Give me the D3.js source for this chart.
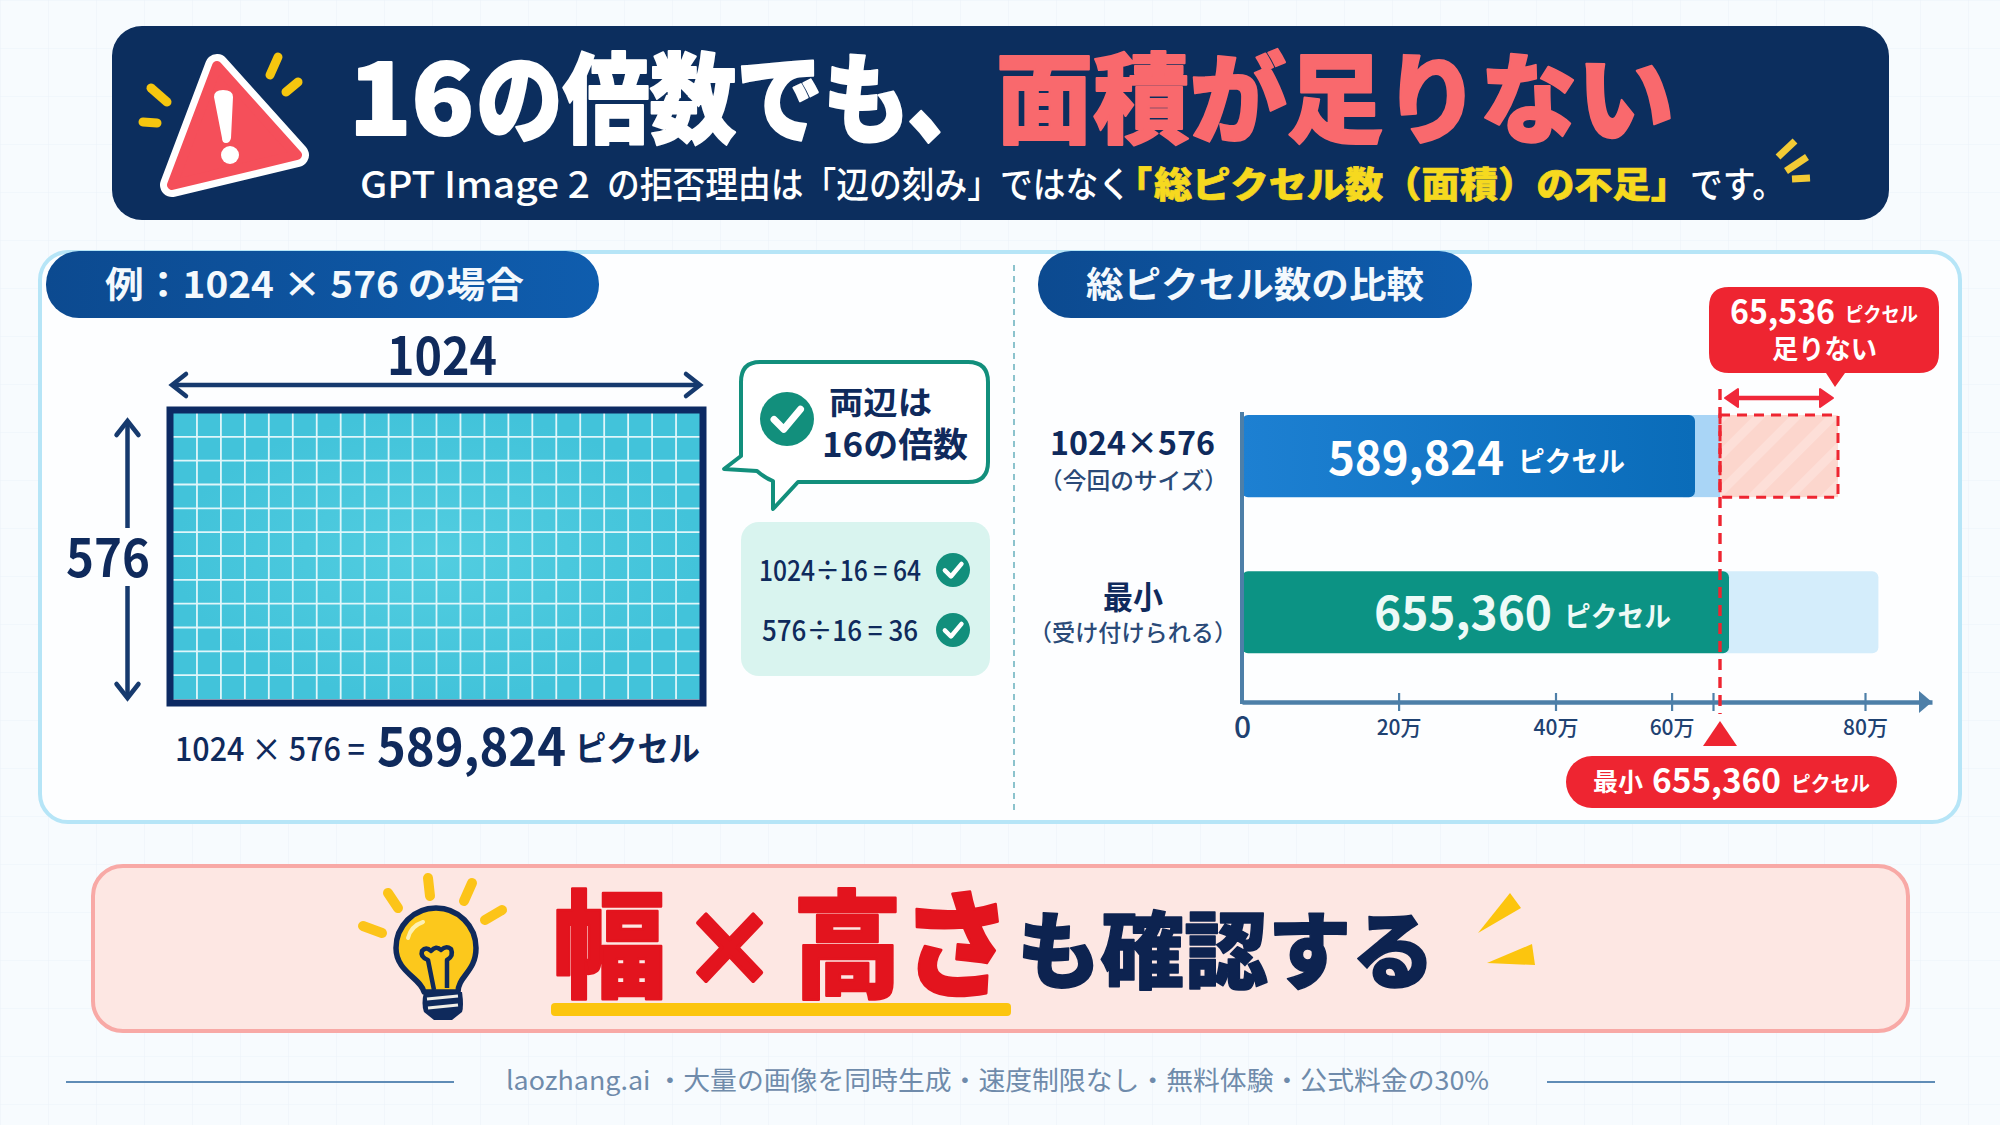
<!DOCTYPE html>
<html lang="ja">
<head>
<meta charset="utf-8">
<script src="https://cdn.jsdelivr.net/npm/d3@7/dist/d3.min.js"></script>
<style>
html,body{margin:0;padding:0;background:#f6fafd;}
svg{display:block;}
text{font-family:"Noto Sans CJK JP","Noto Sans",sans-serif;}
</style>
</head>
<body>
<svg id="c" width="2000" height="1125" viewBox="0 0 2000 1125"></svg>
<script>
// ---- data ----
const categories = ["1024×576", "最小"];
const categoryNotes = ["（今回のサイズ）", "（受け付けられる）"];
const values = [589824, 655360];
const minimumPixels = 655360;
const shortfall = 65536;
const trackEnd = 820000;
const axisEnd = 900000;
const axisTicks = [0, 200000, 400000, 600000, 650000, 800000];
const axisTickLabels = ["0", "20万", "40万", "60万", "", "80万"];
const gridColumns = 22;
const gridRows = 12;

// ---- helpers ----
const NAVY = "#0f2a5c", RED = "#ee2531", GREEN = "#128f7c", YEL = "#f6c60f";
const svg = d3.select("#c");
const defs = svg.append("defs");
// fits text between two measured x positions, centred vertically on yc
function T(g, x0, x1, yc, str, size, fill, weight) {
  return g.append("text").attr("x", x0).attr("y", yc + size * 0.36)
    .attr("textLength", x1 - x0).attr("lengthAdjust", "spacingAndGlyphs")
    .attr("font-size", size).attr("font-weight", weight || 700).attr("fill", fill).text(str);
}
function heavy(sel, w) {
  return sel.attr("stroke", sel.attr("fill")).attr("stroke-width", w).attr("stroke-linejoin", "round");
}
function sparks(g, list, color, w, cap) {
  g.selectAll(null).data(list).join("line")
    .attr("x1", d => d[0]).attr("y1", d => d[1]).attr("x2", d => d[2]).attr("y2", d => d[3])
    .attr("stroke", color).attr("stroke-width", w).attr("stroke-linecap", cap || "round");
}
function check(g, cx, cy, r) {
  g.append("circle").attr("cx", cx).attr("cy", cy).attr("r", r).attr("fill", GREEN);
  g.append("path").attr("d", `M${cx - r * .48} ${cy + r * .02} L${cx - r * .12} ${cy + r * .38} L${cx + r * .5} ${cy - r * .36}`)
    .attr("fill", "none").attr("stroke", "#fff").attr("stroke-width", r * .26)
    .attr("stroke-linecap", "round").attr("stroke-linejoin", "round");
}
function hgrad(id, a, b) {
  const g = defs.append("linearGradient").attr("id", id);
  g.append("stop").attr("offset", "0").attr("stop-color", a);
  g.append("stop").attr("offset", "1").attr("stop-color", b);
}
hgrad("pill", "#0c4a90", "#0f5dae");
hgrad("barBlue", "#1d80d2", "#0a6cb9");
const rg = defs.append("radialGradient").attr("id", "cells");
rg.append("stop").attr("offset", "0").attr("stop-color", "#52cde0");
rg.append("stop").attr("offset", "1").attr("stop-color", "#42c3da");
const bgp = defs.append("pattern").attr("id", "paper").attr("width", 48).attr("height", 48).attr("patternUnits", "userSpaceOnUse");
bgp.append("path").attr("d", "M48 0H0V48").attr("fill", "none").attr("stroke", "#ecf3f9").attr("stroke-width", 1.2);
const hat = defs.append("pattern").attr("id", "hatch").attr("width", 26).attr("height", 26)
  .attr("patternUnits", "userSpaceOnUse").attr("patternTransform", "rotate(45)");
hat.append("rect").attr("width", 26).attr("height", 26).attr("fill", "#fcd6cd");
hat.append("rect").attr("width", 9).attr("height", 26).attr("fill", "#fddfd8");

svg.append("rect").attr("width", 2000).attr("height", 1125).attr("fill", "#f7fbfe");
svg.append("rect").attr("width", 2000).attr("height", 1125).attr("fill", "url(#paper)");

// ---- top banner ----
const head = svg.append("g");
head.append("rect").attr("x", 112).attr("y", 26).attr("width", 1777).attr("height", 194).attr("rx", 30).attr("fill", "#0c2e5e");
const triPts = "217,66 172,185 297,155";
head.append("polygon").attr("points", triPts).attr("fill", "#fff").attr("stroke", "#fff").attr("stroke-width", 24).attr("stroke-linejoin", "round");
head.append("polygon").attr("points", triPts).attr("fill", "#f54f5a").attr("stroke", "#f54f5a").attr("stroke-width", 10).attr("stroke-linejoin", "round");
head.append("path").attr("d", "M214 97 Q214 90 223 90 Q233 90 233 97 L231 138 Q230 143 226 143 Q222 143 222 138 Z").attr("fill", "#fff");
head.append("circle").attr("cx", 230).attr("cy", 155).attr("r", 9).attr("fill", "#fff");
sparks(head, [[278, 57, 270, 75], [298, 82, 286, 92], [151, 88, 167, 102], [143, 122, 157, 123]], YEL, 9);
sparks(head, [[1795, 141, 1778, 157], [1807, 157, 1786, 171], [1810, 178, 1792, 179]], "#f3cb35", 7, "butt");
heavy(T(head, 349, 474, 100, "16", 98, "#fff", 900), 2);
heavy(T(head, 476, 994, 100, "の倍数でも、", 98, "#fff", 900), 2);
heavy(T(head, 996, 1674, 100, "面積が足りない", 98, "#f9696d", 900), 2);
T(head, 360, 590, 185, "GPT Image 2", 36, "#fff", 500);
T(head, 607, 1131, 185, "の拒否理由は「辺の刻み」ではなく", 36, "#fff", 500);
heavy(T(head, 1132, 1689, 185, "総ピクセル数（面積）の不足」", 36, "#f6d91f", 900), 0.6)
  .attr("x", 1154).attr("textLength", 535).text("総ピクセル数（面積）の不足」");
heavy(T(head, 1133, 1154, 185, "「", 36, "#f6d91f", 900), 0.6).attr("x", 1116).attr("textLength", 36);
T(head, 1690, 1785, 185, "です。", 36, "#fff", 500);

// ---- main panel ----
const panel = svg.append("g");
panel.append("rect").attr("x", 40).attr("y", 252).attr("width", 1920).attr("height", 570).attr("rx", 28)
  .attr("fill", "#fdfeff").attr("stroke", "#b6e5f7").attr("stroke-width", 4);
panel.append("line").attr("x1", 1014).attr("x2", 1014).attr("y1", 265).attr("y2", 810)
  .attr("stroke", "#8cc3cd").attr("stroke-width", 2).attr("stroke-dasharray", "6 5");
panel.append("rect").attr("x", 46).attr("y", 251).attr("width", 553).attr("height", 67).attr("rx", 33).attr("fill", "url(#pill)");
T(panel, 105, 524, 285, "例：1024 × 576 の場合", 36, "#f4f9fd", 700);
panel.append("rect").attr("x", 1038).attr("y", 251).attr("width", 434).attr("height", 67).attr("rx", 33).attr("fill", "url(#pill)");
T(panel, 1086, 1424, 285, "総ピクセル数の比較", 36, "#f4f9fd", 700);

// ---- left: the 1024 x 576 grid ----
const leftPart = svg.append("g");
const gx = d3.scaleLinear().domain([0, gridColumns]).range([173, 700]);
const gy = d3.scaleLinear().domain([0, gridRows]).range([413, 699]);
leftPart.append("rect").attr("x", gx(0)).attr("y", gy(0)).attr("width", gx(gridColumns) - gx(0)).attr("height", gy(gridRows) - gy(0)).attr("fill", "url(#cells)");
leftPart.selectAll(".vg").data(d3.range(1, gridColumns)).join("line").attr("class", "vg")
  .attr("x1", gx).attr("x2", gx).attr("y1", gy(0)).attr("y2", gy(gridRows)).attr("stroke", "#dff6fa").attr("stroke-width", 1.8);
leftPart.selectAll(".hg").data(d3.range(1, gridRows)).join("line").attr("class", "hg")
  .attr("y1", gy).attr("y2", gy).attr("x1", gx(0)).attr("x2", gx(gridColumns)).attr("stroke", "#dff6fa").attr("stroke-width", 1.8);
leftPart.append("rect").attr("x", 170).attr("y", 410).attr("width", 533).attr("height", 293).attr("fill", "none").attr("stroke", "#0c2a63").attr("stroke-width", 7);
// dimension arrows
function chevron(g, x, y0, dx, dy, len, w, col) {
  g.append("path").attr("d", `M${x + dx * len + dy * w} ${y0 + dy * len + dx * w} L${x} ${y0} L${x + dx * len - dy * w} ${y0 + dy * len - dx * w}`)
    .attr("fill", "none").attr("stroke", col).attr("stroke-width", 4.5).attr("stroke-linecap", "round").attr("stroke-linejoin", "miter");
}
leftPart.append("line").attr("x1", 173).attr("x2", 699).attr("y1", 385).attr("y2", 385).attr("stroke", "#163a6e").attr("stroke-width", 4.5);
chevron(leftPart, 172, 385, 1, 0, 14, 11, "#163a6e");
chevron(leftPart, 700, 385, -1, 0, 14, 11, "#163a6e");
leftPart.append("line").attr("x1", 127.5).attr("x2", 127.5).attr("y1", 422).attr("y2", 528).attr("stroke", "#163a6e").attr("stroke-width", 4.5);
leftPart.append("line").attr("x1", 127.5).attr("x2", 127.5).attr("y1", 586).attr("y2", 696).attr("stroke", "#163a6e").attr("stroke-width", 4.5);
chevron(leftPart, 127.5, 421, 0, 1, 14, 11, "#163a6e");
chevron(leftPart, 127.5, 698, 0, -1, 14, 11, "#163a6e");
T(leftPart, 387, 497, 356, "1024", 52, NAVY, 700);
T(leftPart, 66, 150, 558, "576", 52, NAVY, 700);
T(leftPart, 175, 365, 749, "1024 × 576 =", 32, NAVY, 500);
T(leftPart, 377, 566, 747, "589,824", 52, NAVY, 700);
T(leftPart, 575, 700, 749, "ピクセル", 34, NAVY, 700);
// speech bubble + checks
leftPart.append("path").attr("d", "M760 362 H968 Q988 362 988 382 V462 Q988 482 968 482 H798 L773 509 L773 481 Q765 478 757 471 L724 469 L741 456 V382 Q741 362 760 362 Z")
  .attr("fill", "#fff").attr("stroke", GREEN).attr("stroke-width", 4).attr("stroke-linejoin", "round");
check(leftPart, 787, 419, 27);
T(leftPart, 829, 932, 402, "両辺は", 32, NAVY, 700);
T(leftPart, 822, 968, 445, "16の倍数", 34, NAVY, 700);
leftPart.append("rect").attr("x", 741).attr("y", 522).attr("width", 249).attr("height", 154).attr("rx", 18).attr("fill", "#d9f4ef");
T(leftPart, 759, 921, 571, "1024÷16 = 64", 28, NAVY, 500);
T(leftPart, 762, 918, 631, "576÷16 = 36", 28, NAVY, 500);
check(leftPart, 953, 570, 17);
check(leftPart, 953, 630, 17);

// ---- right: pixel comparison chart ----
const chart = svg.append("g");
const axisX = d3.scaleLinear()
  .domain([0, 200000, 400000, 600000, 650000, minimumPixels, minimumPixels + shortfall, 800000, axisEnd])
  .range([1242, 1398.6, 1555.5, 1671.6, 1713, 1720, 1838, 1865, 1932]);
const barX = d3.scaleLinear().domain([0, values[0], values[1]]).range([1242, 1695, 1729]);
const y = d3.scaleBand().domain(categories).range([415, 653.3]).paddingInner(0.474).paddingOuter(0);

// pale tracks behind the bars
chart.append("rect").attr("x", barX(values[0]) - 12).attr("y", y(categories[0])).attr("width", axisX(minimumPixels) - barX(values[0]) + 12)
  .attr("height", y.bandwidth()).attr("fill", "#a9d5f6");
chart.append("rect").attr("x", barX(values[1]) - 12).attr("y", y(categories[1])).attr("width", axisX(trackEnd) - barX(values[1]) + 12)
  .attr("height", y.bandwidth()).attr("rx", 6).attr("fill", "#d4edfb");
// shortfall block
chart.append("rect").attr("x", axisX(minimumPixels)).attr("y", y(categories[0]))
  .attr("width", axisX(minimumPixels + shortfall) - axisX(minimumPixels)).attr("height", y.bandwidth())
  .attr("fill", "url(#hatch)").attr("stroke", RED).attr("stroke-width", 3).attr("stroke-dasharray", "10 7");
// bars
chart.selectAll(".bar").data(values).join("rect").attr("class", "bar")
  .attr("x", barX(0)).attr("y", (d, i) => y(categories[i])).attr("width", d => barX(d) - barX(0))
  .attr("height", y.bandwidth()).attr("rx", 6)
  .attr("fill", (d, i) => i === 0 ? "url(#barBlue)" : "#0c9384");
// axes
const axisY = 702;
const ax = chart.append("g").attr("transform", `translate(0,${axisY})`)
  .call(d3.axisBottom(axisX).tickValues(axisTicks).tickSizeOuter(0)
    .tickFormat((d, i) => axisTickLabels[i]));
ax.select(".domain").attr("stroke", "#4d7fa8").attr("stroke-width", 4.5);
ax.selectAll(".tick line").attr("y1", -9).attr("y2", 9).attr("stroke", "#4d7fa8").attr("stroke-width", 2.2);
ax.selectAll(".tick").filter(d => d === 0).select("line").remove();
ax.selectAll(".tick text").attr("y", 33).attr("dy", ".0em").attr("font-family", '"Noto Sans CJK JP"')
  .attr("font-size", 21).attr("font-weight", 500).attr("fill", "#1f4272");
ax.selectAll(".tick").filter(d => d === 0).select("text").attr("font-size", 30).attr("y", 36);
chart.append("line").attr("x1", axisX(0)).attr("x2", axisX(0)).attr("y1", 412).attr("y2", axisY + 2).attr("stroke", "#4d7fa8").attr("stroke-width", 4);
chart.append("path").attr("d", `M${axisX(axisEnd) - 13} ${axisY - 11} L${axisX(axisEnd)} ${axisY} L${axisX(axisEnd) - 13} ${axisY + 11} Z`).attr("fill", "#4d7fa8");
// category labels
const labelBox = [[1050, 1215], [1103, 1163]];
const noteBox = [[1039, 1228], [1029, 1237]];
const labelY = [443, 597], noteY = [481, 633];
categories.forEach((c, i) => {
  T(chart, labelBox[i][0], labelBox[i][1], labelY[i], c, 32, NAVY, 700);
  T(chart, noteBox[i][0], noteBox[i][1], noteY[i], categoryNotes[i], 23, "#2a4a78", 500);
});
// bar value text
const fmt = d3.format(",");
T(chart, 1328, 1504, 458, fmt(values[0]), 46, "#fff", 700);
T(chart, 1518, 1625, 462, "ピクセル", 28, "#fff", 700);
T(chart, 1374, 1552, 613, fmt(values[1]), 46, "#eefaf7", 700);
T(chart, 1564, 1671, 617, "ピクセル", 28, "#eefaf7", 700);
// threshold line, marker, pill
chart.append("line").attr("x1", axisX(minimumPixels)).attr("x2", axisX(minimumPixels)).attr("y1", 389).attr("y2", 714)
  .attr("stroke", RED).attr("stroke-width", 3.4).attr("stroke-dasharray", "11 7");
const tx = axisX(minimumPixels);
chart.append("path").attr("d", `M${tx} 721 L${tx + 17} 746 L${tx - 17} 746 Z`).attr("fill", RED);
chart.append("rect").attr("x", 1566).attr("y", 756).attr("width", 331).attr("height", 52).attr("rx", 26).attr("fill", RED);
T(chart, 1593, 1643, 782, "最小", 25, "#fff", 700);
T(chart, 1652, 1781, 781, fmt(minimumPixels), 34, "#fff", 700);
T(chart, 1791, 1870, 783, "ピクセル", 21, "#fff", 700);
// shortfall callout
chart.append("path").attr("d", "M1729 287 H1919 Q1939 287 1939 307 V353 Q1939 373 1919 373 H1845 L1835 387 L1826 373 H1729 Q1709 373 1709 353 V307 Q1709 287 1729 287 Z").attr("fill", RED);
T(chart, 1730, 1835, 312, fmt(shortfall), 33, "#fff", 700);
T(chart, 1845, 1918, 315, "ピクセル", 20, "#fff", 700);
T(chart, 1772, 1877, 349, "足りない", 27, "#fff", 700);
// double arrow
chart.append("line").attr("x1", 1732).attr("x2", 1826).attr("y1", 398).attr("y2", 398).attr("stroke", "#f0283a").attr("stroke-width", 4.5);
chart.append("path").attr("d", "M1725 398 L1738 389 L1738 407 Z").attr("fill", "#f0283a").attr("stroke", "#f0283a").attr("stroke-width", 2).attr("stroke-linejoin", "round");
chart.append("path").attr("d", "M1833 398 L1820 389 L1820 407 Z").attr("fill", "#f0283a").attr("stroke", "#f0283a").attr("stroke-width", 2).attr("stroke-linejoin", "round");

// ---- bottom banner ----
const low = svg.append("g");
low.append("rect").attr("x", 93).attr("y", 866).attr("width", 1815).attr("height", 165).attr("rx", 30)
  .attr("fill", "#fde7e3").attr("stroke", "#f8a9a6").attr("stroke-width", 4);
// bulb
sparks(low, [[388, 893, 398, 908], [428, 878, 430, 896], [472, 883, 464, 901], [502, 910, 485, 920], [363, 926, 382, 933]], "#fcc419", 10);
low.append("path").attr("d", "M424 992 C421 978 396 972 396 948 A40 40 0 0 1 476 948 C476 972 458 976 458 992 Z")
  .attr("fill", "#fcc81c").attr("stroke", NAVY).attr("stroke-width", 5.5).attr("stroke-linejoin", "round");
low.append("path").attr("d", "M408 938 Q411 926 423 922").attr("fill", "none").attr("stroke", "#fdf0b4").attr("stroke-width", 4).attr("stroke-linecap", "round");
low.append("path").attr("d", "M434 990 L428 960 Q420 957 422 951 Q426 946 431 951 Q436 945 441 950 Q446 945 451 949 Q454 956 447 960 L447 988")
  .attr("fill", "none").attr("stroke", NAVY).attr("stroke-width", 4.5).attr("stroke-linejoin", "round");
low.append("path").attr("d", "M424 992 H462 Q464 1006 462 1012 L452 1020 H434 L424 1012 Q421 1004 424 992 Z").attr("fill", NAVY);
low.append("line").attr("x1", 427).attr("x2", 458).attr("y1", 999).attr("y2", 996).attr("stroke", "#f1efe8").attr("stroke-width", 3);
low.append("line").attr("x1", 428).attr("x2", 458).attr("y1", 1008).attr("y2", 1005).attr("stroke", "#f1efe8").attr("stroke-width", 3);
heavy(T(low, 553, 666, 946, "幅", 116, "#e3141e", 900), 2.5);
heavy(T(low, 682, 777, 950, "×", 100, "#e3141e", 900), 4);
heavy(T(low, 793, 1011, 946, "高さ", 116, "#e3141e", 900), 2.5);
heavy(T(low, 1017, 1435, 952, "も確認する", 84, "#0d2350", 900), 1.5);
low.append("rect").attr("x", 551).attr("y", 1003).attr("width", 460).attr("height", 13).attr("rx", 4).attr("fill", "#fcc50e");
low.append("path").attr("d", "M1510 893 L1521 908 L1478 933 Z").attr("fill", "#fcc50e");
low.append("path").attr("d", "M1532 944 L1535 965 L1487 963 Z").attr("fill", "#fcc50e");

// ---- footer ----
const foot = svg.append("g");
foot.append("line").attr("x1", 66).attr("x2", 454).attr("y1", 1082).attr("y2", 1082).attr("stroke", "#5f8cb6").attr("stroke-width", 2.2);
foot.append("line").attr("x1", 1547).attr("x2", 1935).attr("y1", 1082).attr("y2", 1082).attr("stroke", "#5f8cb6").attr("stroke-width", 2.2);
T(foot, 506, 1489, 1081, "laozhang.ai ・大量の画像を同時生成・速度制限なし・無料体験・公式料金の30%", 26, "#6f8bab", 400);
</script>
</body>
</html>
